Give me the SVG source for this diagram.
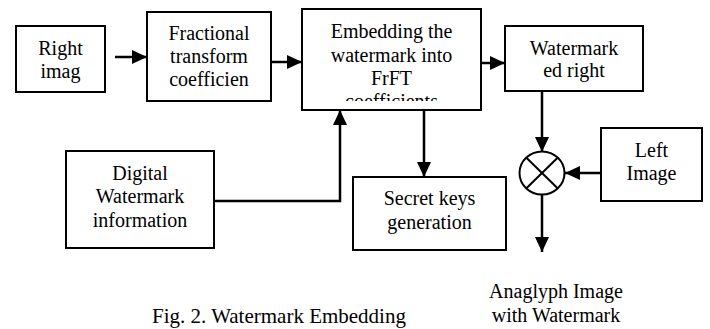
<svg xmlns="http://www.w3.org/2000/svg" width="710" height="329" viewBox="0 0 710 329">
<style>
.box{fill:#fff;stroke:#000;stroke-width:2}
.t{font-family:"Liberation Serif","Times New Roman",serif;font-size:20px;fill:#000;text-anchor:middle}
.cap{font-family:"Liberation Serif","Times New Roman",serif;font-size:21px;fill:#000}
.c{fill:none;stroke:#000;stroke-width:2.5}
</style>
<defs>
<marker id="ah" markerUnits="userSpaceOnUse" markerWidth="16" markerHeight="14" refX="15" refY="7" orient="auto">
<path d="M0,0 L15,7 L0,14 z" fill="#000"/>
</marker>
<clipPath id="embclip"><rect x="302" y="9" width="179" height="92"/></clipPath>
</defs>
<rect width="710" height="329" fill="#fff"/>
<g id="connectors">
<line class="c" x1="115" y1="57" x2="147" y2="57" marker-end="url(#ah)"/>
<line class="c" x1="271" y1="62" x2="302" y2="62" marker-end="url(#ah)"/>
<line class="c" x1="481" y1="63" x2="505" y2="63" marker-end="url(#ah)"/>
<line class="c" x1="542" y1="91" x2="542" y2="152" marker-end="url(#ah)"/>
<line class="c" x1="601" y1="173" x2="565" y2="173" marker-end="url(#ah)"/>
<line class="c" x1="542" y1="195" x2="542" y2="252" marker-end="url(#ah)"/>
<line class="c" x1="424" y1="110" x2="424" y2="177" marker-end="url(#ah)"/>
<polyline class="c" points="214,201 340,201 340,110" marker-end="url(#ah)"/>
</g>
<g id="right-image">
<rect class="box" x="16" y="26" width="89" height="66"/>
<text class="t" x="60.5" y="55">Right</text>
<text class="t" x="60.5" y="78">imag</text>
</g>
<g id="fractional">
<rect class="box" x="147" y="12" width="124" height="89"/>
<text class="t" x="209" y="40">Fractional</text>
<text class="t" x="209" y="63">transform</text>
<text class="t" x="209" y="86">coefficien</text>
</g>
<g id="embedding">
<rect class="box" x="302" y="9" width="179" height="101"/>
<g clip-path="url(#embclip)">
<text class="t" x="391.5" y="38">Embedding the</text>
<text class="t" x="391.5" y="62">watermark into</text>
<text class="t" x="391.5" y="85">FrFT</text>
<text class="t" x="391.5" y="108">coefficients</text>
</g>
</g>
<g id="watermarked">
<rect class="box" x="505" y="26" width="138" height="65"/>
<text class="t" x="574" y="55">Watermark</text>
<text class="t" x="574" y="77">ed right</text>
</g>
<g id="mixer">
<ellipse cx="542" cy="173" rx="22.5" ry="21.5" fill="#fff" stroke="#000" stroke-width="2"/>
<line x1="526.4" y1="157.8" x2="557.6" y2="188.2" stroke="#000" stroke-width="2"/>
<line x1="557.6" y1="157.8" x2="526.4" y2="188.2" stroke="#000" stroke-width="2"/>
</g>
<g id="left-image">
<rect class="box" x="601" y="128" width="101" height="73"/>
<text class="t" x="651.5" y="157">Left</text>
<text class="t" x="651.5" y="180">Image</text>
</g>
<g id="secret-keys">
<rect class="box" x="353" y="177" width="153" height="73"/>
<text class="t" x="429.5" y="205">Secret keys</text>
<text class="t" x="429.5" y="229">generation</text>
</g>
<g id="digital-watermark">
<rect class="box" x="66" y="151" width="148" height="97"/>
<text class="t" x="140" y="180">Digital</text>
<text class="t" x="140" y="203">Watermark</text>
<text class="t" x="140" y="227">information</text>
</g>
<g id="output-label">
<text class="t" x="556" y="298">Anaglyph Image</text>
<text class="t" x="556" y="322">with Watermark</text>
</g>
<text class="cap" x="152" y="323">Fig. 2. Watermark Embedding</text>
</svg>
